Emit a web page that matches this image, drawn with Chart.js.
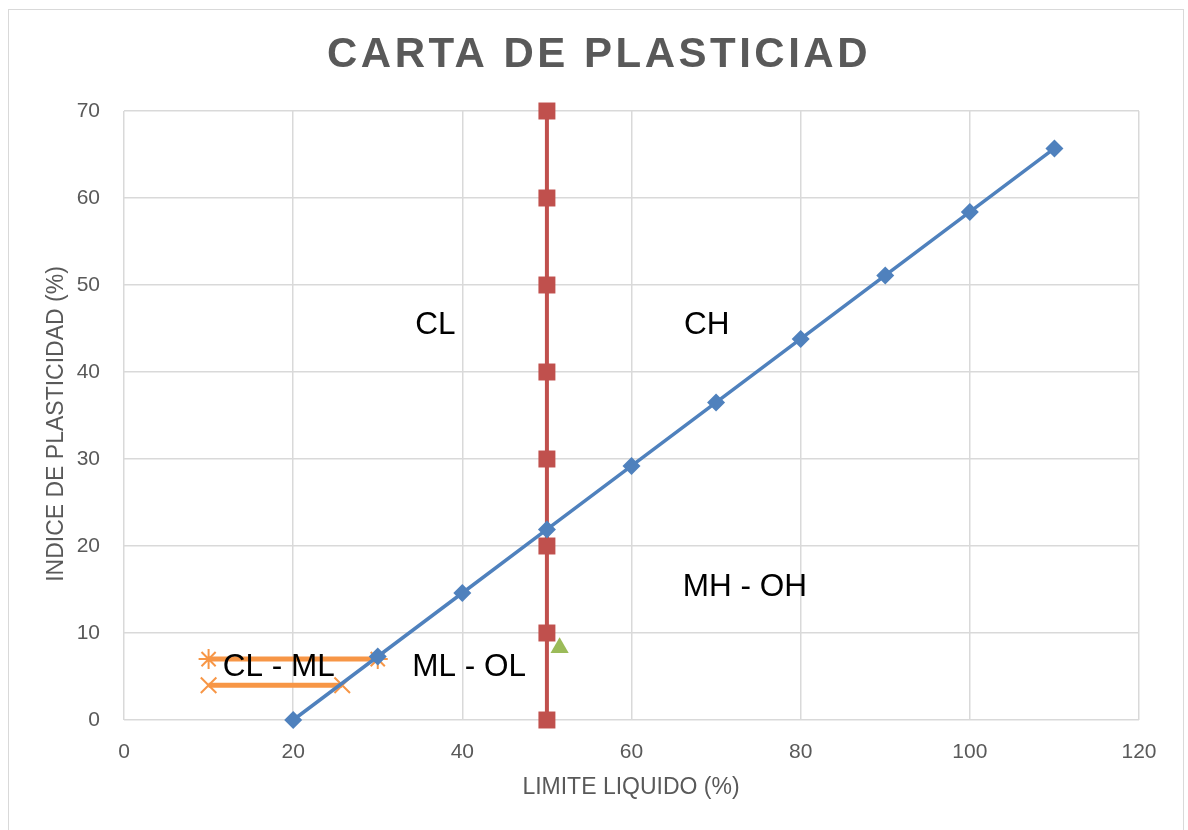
<!DOCTYPE html>
<html>
<head>
<meta charset="utf-8">
<script src="https://cdn.jsdelivr.net/npm/chart.js@4.4.0/dist/chart.umd.min.js"></script>
<style>
  html, body { margin: 0; padding: 0; background: #fff; }
  #wrap { position: relative; width: 1188px; height: 830px; }
  #frame { position: absolute; left: 8px; top: 9px; width: 1176px; height: 830px; border: 1px solid #d9d9d9; box-sizing: border-box; }
  canvas { position: absolute; left: 0; top: 0; }
</style>
</head>
<body>
<div id="wrap">
  <div id="frame"></div>
  <canvas id="chart" width="1188" height="830"></canvas>
</div>
<script>
// linea A
const lineaAX = [20, 30, 40, 50, 60, 70, 80, 90, 100, 110];
const lineaAY = [0, 7.3, 14.6, 21.9, 29.2, 36.5, 43.8, 51.1, 58.4, 65.7];
// linea B (LL = 50)
const lineaBX = [50, 50, 50, 50, 50, 50, 50, 50];
const lineaBY = [0, 10, 20, 30, 40, 50, 60, 70];
// zona CL - ML
const limSupX = [10, 30];
const limSupY = [7, 7];
const limInfX = [10, 25.8];
const limInfY = [4, 4];
// muestra
const muestraX = [51.5];
const muestraY = [8.3];

const xTicks = [0, 20, 40, 60, 80, 100, 120];
const yTicks = [0, 10, 20, 30, 40, 50, 60, 70];

const zonas = ['CL', 'CH', 'MH - OH', 'ML - OL', 'CL - ML'];
const zonasX = [36.8, 68.9, 73.4, 40.8, 18.3];
const zonasY = [45.4, 45.4, 15.3, 6.1, 6.0];

function pts(xs, ys) {
  return xs.map((x, i) => ({ x: x, y: ys[i] }));
}

const gris = '#595959';
const fuente = '"Liberation Sans", Arial, sans-serif';

const zonasPlugin = {
  id: 'zonas',
  afterDatasetsDraw(chart) {
    const ctx = chart.ctx;
    const sx = chart.scales.x, sy = chart.scales.y;
    ctx.save();
    ctx.fillStyle = '#000';
    ctx.font = '31.5px ' + fuente;
    ctx.textAlign = 'center';
    ctx.textBaseline = 'middle';
    zonas.forEach((t, i) => {
      ctx.fillText(t, sx.getPixelForValue(zonasX[i]), sy.getPixelForValue(zonasY[i]));
    });
    ctx.restore();
  },
  afterDraw(chart) {
    const ctx = chart.ctx;
    ctx.save();
    ctx.fillStyle = gris;
    ctx.textAlign = 'center';
    ctx.textBaseline = 'middle';
    // titulos de ejes
    ctx.font = '23px ' + fuente;
    ctx.fillText('LIMITE LIQUIDO (%)', 631, 788);
    ctx.save();
    ctx.translate(57, 424);
    ctx.rotate(-Math.PI / 2);
    ctx.fillText('INDICE DE PLASTICIDAD (%)', 0, 0);
    ctx.restore();
    // titulo
    ctx.font = 'bold 42px ' + fuente;
    ctx.letterSpacing = '3.5px';
    ctx.fillText('CARTA DE PLASTICIAD', 599, 55);
    ctx.restore();
  }
};

const ctx = document.getElementById('chart').getContext('2d');
new Chart(ctx, {
  type: 'scatter',
  data: {
    datasets: [
      {
        label: 'Linea A',
        data: pts(lineaAX, lineaAY),
        showLine: true,
        clip: false,
        borderColor: '#4F81BD',
        backgroundColor: '#4F81BD',
        borderWidth: 3.5,
        pointStyle: 'rectRot',
        pointRadius: 9,
        pointBorderWidth: 0
      },
      {
        label: 'Linea B',
        data: pts(lineaBX, lineaBY),
        showLine: true,
        clip: false,
        borderColor: '#C0504D',
        backgroundColor: '#C0504D',
        borderWidth: 4,
        pointStyle: 'rect',
        pointRadius: 12,
        pointBorderWidth: 0
      },
      {
        label: 'Limite sup',
        data: pts(limSupX, limSupY),
        showLine: true,
        clip: false,
        borderColor: '#F79646',
        backgroundColor: '#F79646',
        borderWidth: 5,
        pointStyle: 'star',
        pointRadius: 10,
        pointBorderWidth: 2
      },
      {
        label: 'Limite inf',
        data: pts(limInfX, limInfY),
        showLine: true,
        clip: false,
        borderColor: '#F79646',
        backgroundColor: '#F79646',
        borderWidth: 5,
        pointStyle: 'crossRot',
        pointRadius: 11,
        pointBorderWidth: 2
      },
      {
        label: 'Muestra',
        data: pts(muestraX, muestraY),
        showLine: false,
        clip: false,
        borderColor: '#9BBB59',
        backgroundColor: '#9BBB59',
        pointStyle: 'triangle',
        pointRadius: 10.5,
        pointBorderWidth: 0
      }
    ]
  },
  options: {
    responsive: false,
    animation: false,
    layout: { padding: { top: 111, right: 49, left: 0, bottom: 0 } },
    plugins: {
      legend: { display: false },
      tooltip: { enabled: false },
      title: { display: false }
    },
    scales: {
      x: {
        type: 'linear',
        min: 0,
        max: 120,
        afterBuildTicks: (scale) => { scale.ticks = xTicks.map(v => ({ value: v })); },
        afterFit: (scale) => { scale.height = 110; },
        grid: { color: '#d9d9d9', lineWidth: 1.5, drawTicks: false },
        border: { display: false },
        ticks: { color: gris, font: { size: 21, family: fuente }, padding: 20 }
      },
      y: {
        type: 'linear',
        min: 0,
        max: 70,
        afterBuildTicks: (scale) => { scale.ticks = yTicks.map(v => ({ value: v })); },
        afterFit: (scale) => { scale.width = 124; },
        grid: { color: '#d9d9d9', lineWidth: 1.5, drawTicks: false },
        border: { display: false },
        ticks: { color: gris, font: { size: 21, family: fuente }, padding: 24 }
      }
    }
  },
  plugins: [zonasPlugin]
});
</script>
</body>
</html>
